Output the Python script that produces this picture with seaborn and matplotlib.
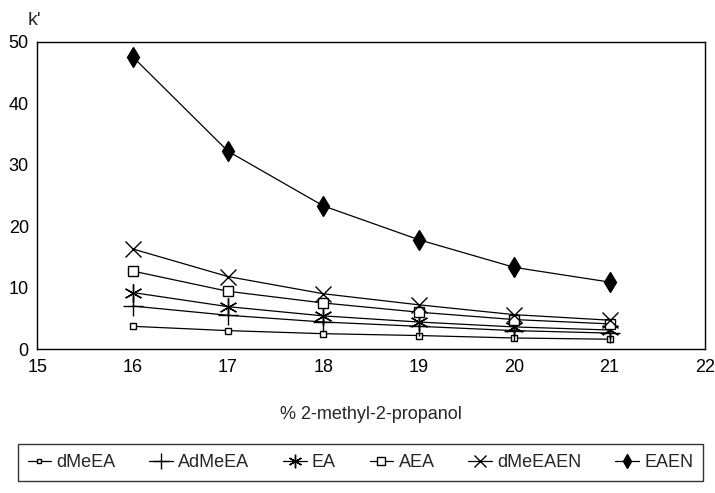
import numpy as np
import pandas as pd
import seaborn as sns
import matplotlib
matplotlib.use('Agg')
import matplotlib.pyplot as plt

sns.set_style('white')
plt.rcParams['font.family'] = ['Liberation Sans', 'DejaVu Sans']

# data
pct = [16, 17, 18, 19, 20, 21]
dMeEA = [3.7, 3.0, 2.5, 2.2, 1.8, 1.6]
AdMeEA = [7.0, 5.5, 4.4, 3.7, 3.0, 2.6]
EA = [9.2, 6.9, 5.4, 4.4, 3.6, 3.1]
AEA = [12.7, 9.4, 7.5, 6.0, 4.8, 4.1]
dMeEAEN = [16.3, 11.8, 9.0, 7.2, 5.6, 4.7]
EAEN = [47.6, 32.2, 23.3, 17.8, 13.3, 10.9]

names = ['dMeEA', 'AdMeEA', 'EA', 'AEA', 'dMeEAEN', 'EAEN']
series = [dMeEA, AdMeEA, EA, AEA, dMeEAEN, EAEN]
df = pd.DataFrame({'pct': pct * len(names),
                   'k': np.concatenate(series),
                   'compound': np.repeat(names, len(pct))})

# marker styles per compound: (marker, size, facecolor)
styles = {
    'dMeEA': ('s', 4, 'white'),
    'AdMeEA': ('+', 15, 'black'),
    'EA': ((6, 2, 0), 13, 'black'),
    'AEA': ('s', 7, 'white'),
    'dMeEAEN': ('x', 11, 'black'),
    'EAEN': ('d', 10, 'black'),
}

fig = plt.figure(figsize=(7.15, 4.93), dpi=100)
ax = fig.add_axes([0.052, 0.292, 0.934, 0.623])

for name in names:
    m, ms, fc = styles[name]
    sub = df[df['compound'] == name]
    sns.lineplot(data=sub, x='pct', y='k', ax=ax, color='black', lw=0.9,
                 marker=m, markersize=ms, markerfacecolor=fc,
                 markeredgecolor='black', markeredgewidth=1.0, label=name)

ax.set_xlim(15, 22)
ax.set_ylim(0, 50)
ax.set_xticks(range(15, 23))
ax.set_yticks(range(0, 51, 10))
ax.tick_params(direction='in', length=4, labelsize=13, colors='black')
ax.tick_params(axis='x', pad=7)
ax.tick_params(axis='y', pad=6)
for s in ax.spines.values():
    s.set_color('black')
    s.set_linewidth(1.0)
ax.set_xlabel('% 2-methyl-2-propanol', fontsize=13, labelpad=22)
ax.set_ylabel('')
fig.text(0.038, 0.975, "k'", fontsize=14, ha='left', va='top')

handles, labels = ax.get_legend_handles_labels()
ax.legend_.remove()
leg = fig.legend(handles, labels, loc='lower left',
                 bbox_to_anchor=(0.012, 0.006, 0.984, 0.09), mode='expand',
                 ncol=6, fontsize=13, frameon=True, fancybox=False,
                 handlelength=1.3, handletextpad=0.3, columnspacing=0.8,
                 borderpad=0.55, edgecolor='black', markerscale=0.75)
leg.get_frame().set_linewidth(1.0)

fig.savefig('out.png', dpi=100)
